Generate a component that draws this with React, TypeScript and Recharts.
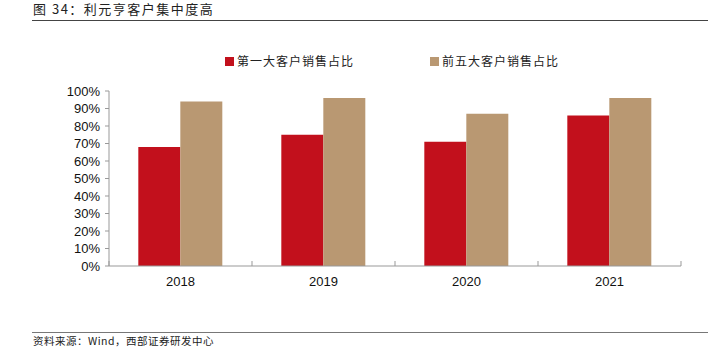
import React from 'react'
import { BarChart, Bar, XAxis, YAxis } from 'recharts'

const years = ['2018', '2019', '2020', '2021']
const top1Share = [68, 75, 71, 86]
const top5Share = [94, 96, 87, 96]
const yTicks = [0, 10, 20, 30, 40, 50, 60, 70, 80, 90, 100]

const data = years.map((year, i) => ({
  year,
  top1: top1Share[i],
  top5: top5Share[i]
}))

const RED = '#C2101C'
const TAN = '#B99872'
const AXIS = '#999999'
const FONT = 'Arial, "Liberation Sans", "Noto Sans CJK SC", sans-serif'
const CJK = '"Noto Sans CJK SC", sans-serif'

const W = 708
const H = 354
const PLOT_LEFT = 109
const PLOT_RIGHT = 681
const BAND = (PLOT_RIGHT - PLOT_LEFT) / years.length

function XTick(props: any) {
  const { x, payload, index } = props
  const axisY = 266
  const left = x - BAND / 2
  return (
    <g>
      <line x1={left} x2={left} y1={axisY - 5} y2={axisY} stroke={AXIS} />
      {index === years.length - 1 && (
        <line x1={x + BAND / 2} x2={x + BAND / 2} y1={axisY - 5} y2={axisY} stroke={AXIS} />
      )}
      <text x={x} y={axisY + 20} textAnchor="middle" fontSize={13} fill="#111" fontFamily={FONT}>
        {payload.value}
      </text>
    </g>
  )
}

const legendItems = [
  { label: '第一大客户销售占比', color: RED, left: 225 },
  { label: '前五大客户销售占比', color: TAN, left: 430 }
]

export default function App() {
  return (
    <div style={{ position: 'absolute', left: 0, top: 0, width: W, height: H, background: '#fff' }}>
      <div
        style={{
          position: 'absolute', left: 33, top: 1, fontFamily: CJK, fontSize: 13,
          letterSpacing: 1.5, color: '#222', lineHeight: '16px'
        }}
      >
        图 34：利元亨客户集中度高
      </div>
      <div style={{ position: 'absolute', left: 32, right: 0, top: 20, height: 1, background: '#444' }} />

      {legendItems.map((it) => (
        <div
          key={it.label}
          style={{ position: 'absolute', left: it.left, top: 54, display: 'flex', alignItems: 'center' }}
        >
          <span style={{ width: 9, height: 9, background: it.color, display: 'inline-block', marginRight: 3 }} />
          <span style={{ fontFamily: CJK, fontSize: 12, letterSpacing: 1, color: '#222', lineHeight: '14px' }}>
            {it.label}
          </span>
        </div>
      ))}

      <BarChart
        width={W}
        height={H}
        data={data}
        margin={{ top: 91, right: W - PLOT_RIGHT, bottom: 58, left: 0 }}
        barCategoryGap="20.5%"
        barGap={0}
        style={{ position: 'absolute', left: 0, top: 0 }}
      >
        <XAxis
          dataKey="year"
          axisLine={{ stroke: AXIS }}
          tickLine={false}
          tick={<XTick />}
          height={30}
          interval={0}
        />
        <YAxis
          domain={[0, 100]}
          ticks={yTicks}
          interval={0}
          width={PLOT_LEFT}
          axisLine={{ stroke: AXIS }}
          tickLine={{ stroke: AXIS }}
          tickSize={4}
          tickFormatter={(v: number) => `${v}%`}
          tick={{ fontSize: 13, fill: '#111', fontFamily: FONT, dx: -3 }}
        />
        <Bar dataKey="top1" fill={RED} isAnimationActive={false} />
        <Bar dataKey="top5" fill={TAN} isAnimationActive={false} />
      </BarChart>

      <div style={{ position: 'absolute', left: 32, right: 0, top: 332, height: 1, background: '#777' }} />
      <div
        style={{
          position: 'absolute', left: 33, top: 334, fontFamily: CJK, fontSize: 10.5,
          letterSpacing: 0.5, color: '#222', lineHeight: '14px'
        }}
      >
        资料来源：Wind，西部证券研发中心
      </div>
    </div>
  )
}
